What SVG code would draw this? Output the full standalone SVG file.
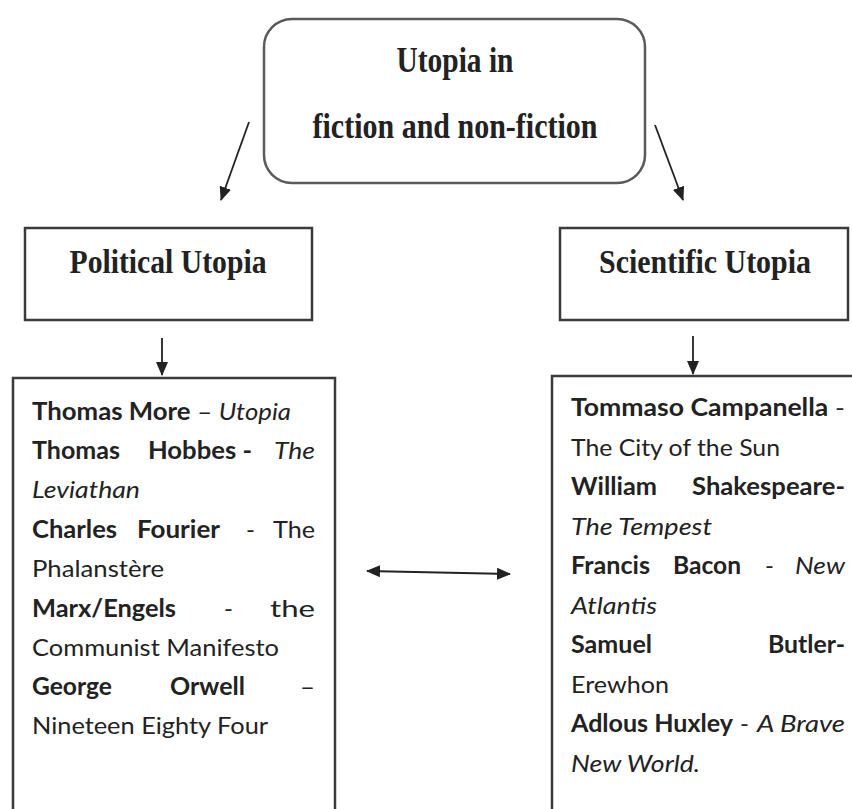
<svg xmlns="http://www.w3.org/2000/svg" width="852" height="809" viewBox="0 0 852 809">
<style>
.box{fill:#fff;stroke:#3a3a3a;stroke-width:2.5}
.rbox{fill:#fff;stroke:#5a5a5a;stroke-width:2.5}
.head{font-family:"Liberation Serif",serif;font-weight:bold;fill:#222}
.t{font-family:Lato,"Liberation Sans",sans-serif;font-size:24px;fill:#222}
.b{font-weight:bold}
.i{font-style:italic}
.conn{stroke:#222;stroke-width:1.8;fill:none}
</style>
<defs>
<marker id="ah" viewBox="0 0 14 12" refX="13" refY="6" markerWidth="14" markerHeight="12" markerUnits="userSpaceOnUse" orient="auto-start-reverse">
<path d="M0,0 L14,6 L0,12 Z" fill="#222"/>
</marker>
</defs>
<rect width="852" height="809" fill="#fff"/>

<g id="root">
<rect class="rbox" x="264" y="19" width="381" height="164" rx="28"/>
<text class="head" x="455" y="72" font-size="36" text-anchor="middle" textLength="117" lengthAdjust="spacingAndGlyphs">Utopia in</text>
<text class="head" x="455" y="138" font-size="36" text-anchor="middle" textLength="285" lengthAdjust="spacingAndGlyphs">fiction and non-fiction</text>
</g>

<g id="political">
<rect class="box" x="25" y="228" width="287" height="92"/>
<text class="head" x="168" y="273" font-size="33" text-anchor="middle" textLength="197" lengthAdjust="spacingAndGlyphs">Political Utopia</text>
</g>

<g id="scientific">
<rect class="box" x="560" y="228" width="288" height="92"/>
<text class="head" x="705" y="273" font-size="33" text-anchor="middle" textLength="212" lengthAdjust="spacingAndGlyphs">Scientific Utopia</text>
</g>

<g id="political-list">
<rect class="box" x="13" y="378" width="322" height="450"/>
<g class="t">
<text x="32" y="420" textLength="259" lengthAdjust="spacingAndGlyphs"><tspan class="b">Thomas More</tspan> – <tspan class="i">Utopia</tspan></text>
<text class="b" x="32" y="459" textLength="88" lengthAdjust="spacingAndGlyphs">Thomas</text>
<text class="b" x="148" y="459" textLength="104" lengthAdjust="spacingAndGlyphs">Hobbes -</text>
<text class="i" x="274" y="459" textLength="41" lengthAdjust="spacingAndGlyphs">The</text>
<text class="i" x="32" y="498" textLength="108" lengthAdjust="spacingAndGlyphs">Leviathan</text>
<text class="b" x="32" y="538" textLength="85" lengthAdjust="spacingAndGlyphs">Charles</text>
<text class="b" x="137" y="538" textLength="83" lengthAdjust="spacingAndGlyphs">Fourier</text>
<text x="246" y="538">-</text>
<text x="273" y="538" textLength="42" lengthAdjust="spacingAndGlyphs">The</text>
<text x="32" y="577" textLength="132" lengthAdjust="spacingAndGlyphs">Phalanstère</text>
<text class="b" x="32" y="617" textLength="144" lengthAdjust="spacingAndGlyphs">Marx/Engels</text>
<text x="224" y="617">-</text>
<text x="270" y="617" textLength="45" lengthAdjust="spacingAndGlyphs">the</text>
<text x="32" y="656" textLength="247" lengthAdjust="spacingAndGlyphs">Communist Manifesto</text>
<text class="b" x="32" y="695" textLength="80" lengthAdjust="spacingAndGlyphs">George</text>
<text class="b" x="170" y="695" textLength="75" lengthAdjust="spacingAndGlyphs">Orwell</text>
<text x="300" y="695" textLength="15" lengthAdjust="spacingAndGlyphs">–</text>
<text x="32" y="734" textLength="236" lengthAdjust="spacingAndGlyphs">Nineteen Eighty Four</text>
</g>
</g>

<g id="scientific-list">
<rect class="box" x="552" y="376" width="320" height="450"/>
<g class="t">
<text x="571" y="416" textLength="274" lengthAdjust="spacingAndGlyphs"><tspan class="b">Tommaso Campanella</tspan> -</text>
<text x="571" y="456" textLength="209" lengthAdjust="spacingAndGlyphs">The City of the Sun</text>
<text class="b" x="571" y="495" textLength="86" lengthAdjust="spacingAndGlyphs">William</text>
<text class="b" x="692" y="495" textLength="153" lengthAdjust="spacingAndGlyphs">Shakespeare-</text>
<text class="i" x="571" y="535" textLength="141" lengthAdjust="spacingAndGlyphs">The Tempest</text>
<text class="b" x="571" y="574" textLength="79" lengthAdjust="spacingAndGlyphs">Francis</text>
<text class="b" x="673" y="574" textLength="68" lengthAdjust="spacingAndGlyphs">Bacon</text>
<text x="765" y="574">-</text>
<text class="i" x="795" y="574" textLength="50" lengthAdjust="spacingAndGlyphs">New</text>
<text class="i" x="571" y="614" textLength="86" lengthAdjust="spacingAndGlyphs">Atlantis</text>
<text class="b" x="571" y="653" textLength="81" lengthAdjust="spacingAndGlyphs">Samuel</text>
<text class="b" x="768" y="653" textLength="77" lengthAdjust="spacingAndGlyphs">Butler-</text>
<text x="571" y="693" textLength="98" lengthAdjust="spacingAndGlyphs">Erewhon</text>
<text class="b" x="571" y="732" textLength="162" lengthAdjust="spacingAndGlyphs">Adlous Huxley</text>
<text x="740" y="732">-</text>
<text class="i" x="757" y="732" textLength="88" lengthAdjust="spacingAndGlyphs">A Brave</text>
<text class="i" x="571" y="772" textLength="129" lengthAdjust="spacingAndGlyphs">New World.</text>
</g>
</g>

<g id="connectors">
<line class="conn" x1="249" y1="122" x2="221" y2="200" marker-end="url(#ah)"/>
<line class="conn" x1="655" y1="125" x2="683" y2="200" marker-end="url(#ah)"/>
<line class="conn" x1="162" y1="338" x2="162" y2="375" marker-end="url(#ah)"/>
<line class="conn" x1="693" y1="336" x2="693" y2="374" marker-end="url(#ah)"/>
<line class="conn" x1="367" y1="571" x2="510" y2="574" marker-start="url(#ah)" marker-end="url(#ah)"/>
</g>
</svg>
